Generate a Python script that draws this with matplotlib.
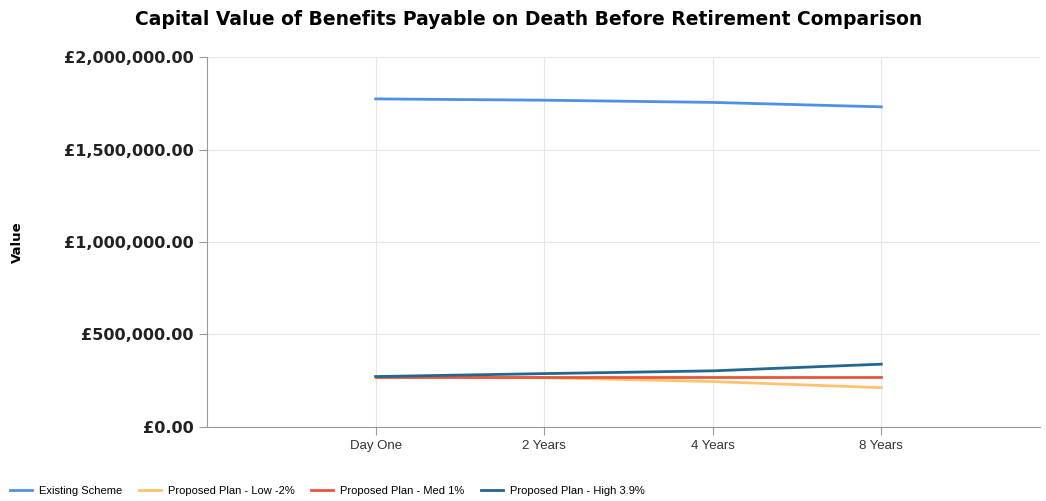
import matplotlib.pyplot as plt
from matplotlib.ticker import FuncFormatter

# === Data ===
periods = ["Day One", "2 Years", "4 Years", "8 Years"]
existing_scheme = [1774000, 1767000, 1755000, 1731000]
plan_low = [272000, 266000, 245000, 212000]
plan_med = [272000, 272000, 272000, 272000]
plan_high = [272000, 288000, 303000, 339000]

series = [
    ("Existing Scheme", existing_scheme, "#4f8fe6"),
    ("Proposed Plan - Low -2%", plan_low, "#fcc46e"),
    ("Proposed Plan - Med 1%", plan_med, "#e8553b"),
    ("Proposed Plan - High 3.9%", plan_high, "#23668f"),
]

# === Plotting ===
fig = plt.figure(figsize=(10.46, 5.01), dpi=100)
ax = fig.add_axes([0.198, 0.148, 0.796, 0.738])

x = list(range(1, len(periods) + 1))
for label, values, color in series:
    ax.plot(x, values, color=color, linewidth=2, label=label)

ax.set_xlim(0, 4.94)
ax.set_ylim(0, 2000000)
ax.set_xticks(x)
ax.set_xticklabels(periods, fontsize=9.5, family="Liberation Sans", color="#333333")
ax.set_yticks([0, 500000, 1000000, 1500000, 2000000])
ax.yaxis.set_major_formatter(FuncFormatter(lambda v, p: "£{:,.2f}".format(v)))
for t in ax.get_yticklabels():
    t.set_fontweight("bold")
    t.set_fontsize(11.5)
    t.set_color("#222222")

ax.grid(True, color="#e6e6e6", linewidth=0.8)
ax.set_axisbelow(True)
for side in ["top", "right"]:
    ax.spines[side].set_visible(False)
for side in ["left", "bottom"]:
    ax.spines[side].set_color("#999999")
ax.tick_params(axis="both", colors="#999999", length=6, labelcolor="#222222")
ax.tick_params(axis="x", labelcolor="#333333")

ax.set_ylabel("Value", fontsize=9.5, fontweight="bold", labelpad=0)
ax.yaxis.set_label_coords(-0.22, 0.5)
fig.suptitle("Capital Value of Benefits Payable on Death Before Retirement Comparison",
             fontsize=13.5, fontweight="bold", x=0.505, y=0.98)

fig.legend(loc="lower left", bbox_to_anchor=(0.0, -0.01), ncol=4, frameon=False,
           prop={"family": "Liberation Sans", "size": 8}, handlelength=2.0,
           columnspacing=1.5, handletextpad=0.6)

fig.savefig("out.png", dpi=100)
